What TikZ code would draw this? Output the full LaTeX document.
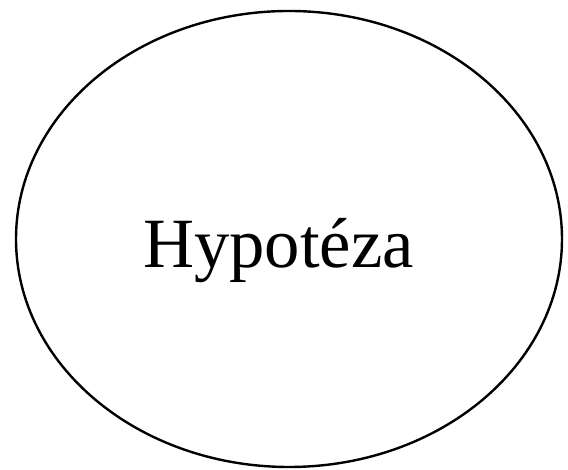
\documentclass[tikz,border=0pt]{standalone}
\usepackage{fontspec}
\setmainfont{Liberation Serif}
\usetikzlibrary{shapes.geometric}

\begin{document}
\begin{tikzpicture}[x=0.75pt,y=0.75pt,every node/.style={inner sep=0pt,outer sep=0pt}]
  \useasboundingbox (0,0) rectangle (568,470);

  % Elipsa
  \node (elipsa) [draw=black,line width=1.8pt,ellipse,minimum width=409.5pt,minimum height=342pt] at (289,231) {};

  % Text
  \node (hypoteza) [anchor=base,font=\fontsize{53}{64}\selectfont] at (278.5,202) {Hypotéza};
\end{tikzpicture}
\end{document}
